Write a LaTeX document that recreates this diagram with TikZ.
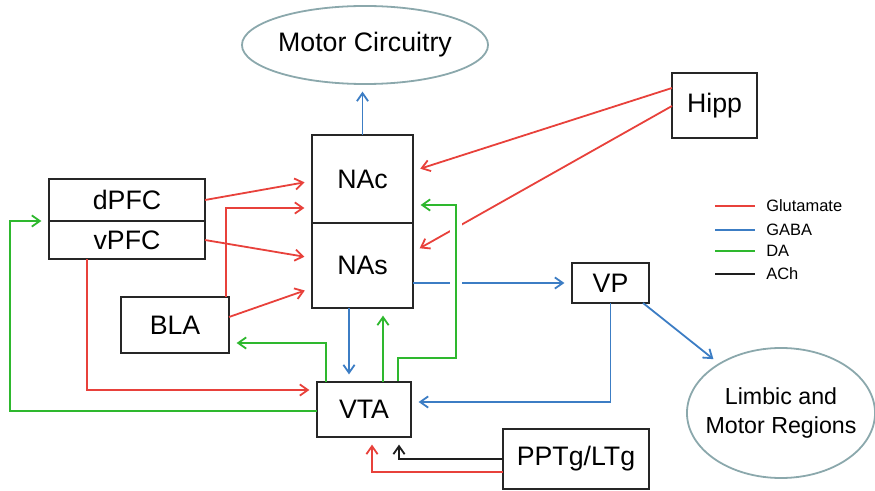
\documentclass[tikz,border=0pt]{standalone}
\usepackage{fontspec}
\setmainfont{Liberation Sans}
\usetikzlibrary{positioning,calc,shapes.geometric,arrows.meta}
\definecolor{glured}{RGB}{232,65,59}
\definecolor{gabablue}{RGB}{60,125,196}
\definecolor{dagreen}{RGB}{46,184,46}
\definecolor{achblack}{RGB}{30,30,30}
\definecolor{ovalgray}{RGB}{139,168,172}
\begin{document}
\begin{tikzpicture}[
        x=0.025cm, y=-0.025cm,
        >={Straight Barb[length=0.2cm,width=0.28cm]},
        base/.style={draw=black!85, line width=0.045cm, inner sep=0pt, outer sep=0pt, align=center, font=\fontsize{19}{22}\selectfont},
        region/.style={base, rectangle},
        oval/.style={base, ellipse, draw=ovalgray},
        flow/.style={->, line width=0.045cm, shorten >=0.19cm},
        glu/.style={flow, draw=glured},
        gaba/.style={flow, draw=gabablue},
        da/.style={flow, draw=dagreen},
        ach/.style={flow, draw=achblack},
        hop/.style={preaction={draw=white, line width=0.3cm, -}},
        leg/.style={font=\fontsize{11.7}{14}\selectfont, anchor=west, inner sep=0pt}
    ]
        \useasboundingbox (0,0) rectangle (875,491);

        \node[oval, minimum width=6.15cm, minimum height=1.95cm] (motor) at (365,45) {Motor Circuitry};
        \node[region, minimum width=2.525cm, minimum height=2.2cm] (nac) at (362.5,179) {NAc};
        \node[region, minimum width=2.525cm, minimum height=2.125cm, below=0pt of nac] (nas) {NAs};
        \node[region, minimum width=3.9cm, minimum height=1.05cm] (dpfc) at (127,200) {dPFC};
        \node[region, minimum width=3.9cm, minimum height=0.95cm, below=0pt of dpfc] (vpfc) {vPFC};
        \node[region, minimum width=2.7cm, minimum height=1.4cm] (bla) at (175,325) {BLA};
        \node[region, minimum width=2.35cm, minimum height=1.375cm] (vta) at (364,409.5) {VTA};
        \node[region, minimum width=1.925cm, minimum height=1.0cm] (vp) at (610.5,283) {VP};
        \node[region, minimum width=2.125cm, minimum height=1.625cm] (hipp) at (714.5,105.5) {Hipp};
        \node[region, minimum width=3.65cm, minimum height=1.5cm] (pptg) at (576,459) {PPTg/LTg};
        \node[oval, font=\fontsize{16.5}{21}\selectfont, inner xsep=-0.45cm, minimum width=4.7cm, minimum height=3.25cm] (limbic) at (781,413) {Limbic and\\ Motor Regions};

        % legend
        \foreach \nt/\col/\yy in {Glutamate/glured/206, GABA/gabablue/230, DA/dagreen/251, ACh/achblack/274} {
            \draw[line width=0.045cm, \col] (715,\yy) -- (755,\yy);
            \node[leg] (leg\nt) at (766,\yy) {\nt};
        }

        % Glutamate
        \draw[glu] (dpfc.east) -- ($(nac.west)+(0,2)$);
        \draw[glu] ($(bla.north east)+(-3,0)$) |- ($(nac.west)+(0,29)$);
        \draw[glu] (vpfc.east) -- ($(nas.west)+(0,-7.5)$);
        \draw[glu] ($(bla.east)+(0,-8)$) -- ($(nas.west)+(0,22.5)$);
        \draw[glu] ($(vpfc.south west)+(38,0)$) |- ($(vta.west)+(0,-19.5)$);
        \draw[glu] ($(hipp.west)+(0,-17.5)$) -- ($(nac.east)+(0,-8)$);
        \draw[glu] ($(hipp.west)+(0,0.5)$) -- ($(nas.east)+(0,-13.5)$);
        \draw[glu] ($(pptg.west)+(0,13)$) -| ($(vta.south)+(8,0)$);

        % ACh
        \draw[ach] (pptg.west) -| ($(vta.south)+(35,0)$);

        % GABA
        \draw[gaba] (nac.north) -- (nac.north |- motor.south);
        \draw[gaba] (nas.east |- vp.west) -- (vp.west);
        \draw[gaba] ($(nas.south)+(-13.5,0)$) -- ($(vta.north)+(-15,0)$);
        \draw[gaba] (vp.south) |- ($(vta.east)+(0,-7.5)$);
        \draw[gaba] ($(vp.south east)+(-6,0)$) -- (limbic);

        % DA
        \draw[da] ($(vta.north)+(-38,0)$) |- ($(bla.east)+(0,18)$);
        \draw[da] ($(vta.north)+(19,0)$) -- ($(nas.south)+(20.5,0)$);
        \draw[da, hop] ($(vta.north)+(34,-1)$) -- ++(0,-23) -| ($(nac.east)+(43,26)$) -- ($(nac.east)+(0,26)$);
        \draw[da] ($(vta.west)+(0,1.5)$) -| ($(dpfc.south west)+(-39,0)$) -- (dpfc.south west);
    \end{tikzpicture}
\end{document}
